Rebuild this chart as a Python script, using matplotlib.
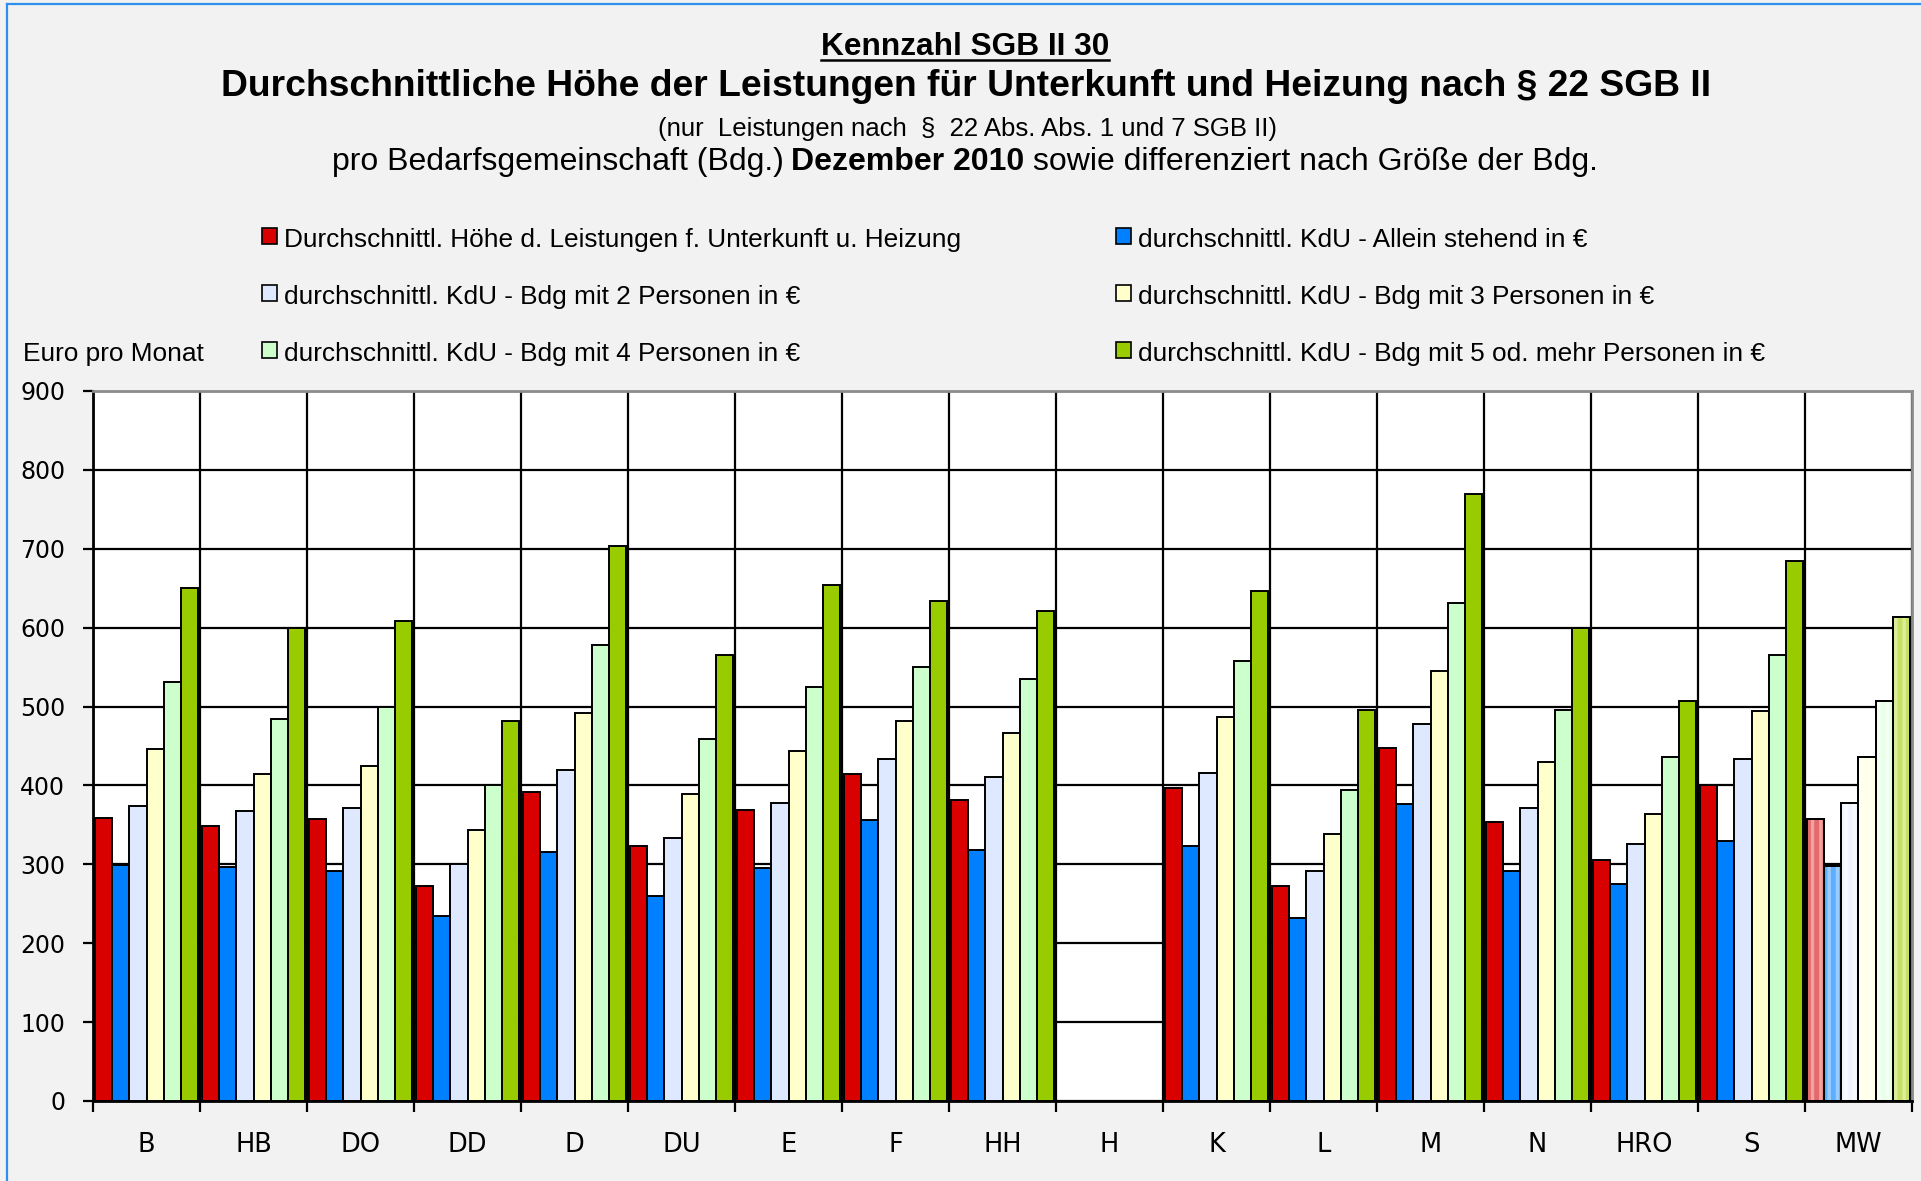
import numpy as np
import matplotlib
matplotlib.use("Agg")
import matplotlib.pyplot as plt
from matplotlib import font_manager
from matplotlib.patches import Rectangle
from matplotlib.lines import Line2D

# --- data (Euro pro Monat, Dezember 2010) ---
cities = ["B", "HB", "DO", "DD", "D", "DU", "E", "F", "HH", "H",
          "K", "L", "M", "N", "HRO", "S", "MW"]
kdu_total = [359, 349, 357, 273, 392, 323, 369, 414, 381, np.nan,
             397, 273, 448, 354, 306, 401, 358]
kdu_single = [299, 296, 291, 235, 316, 260, 295, 356, 318, np.nan,
              323, 232, 376, 292, 275, 329, 298]
kdu_two = [374, 367, 372, 301, 419, 334, 378, 434, 411, np.nan,
           416, 292, 478, 372, 326, 434, 378]
kdu_three = [446, 415, 425, 344, 492, 389, 444, 482, 467, np.nan,
             487, 338, 545, 430, 364, 494, 436]
kdu_four = [531, 484, 499, 401, 578, 459, 525, 550, 535, np.nan,
            558, 394, 631, 496, 436, 565, 507]
kdu_five = [650, 599, 608, 482, 703, 565, 654, 634, 621, np.nan,
            646, 496, 770, 600, 507, 684, 613]

series_labels = [
    "Durchschnittl. Höhe d. Leistungen f. Unterkunft u. Heizung",
    "durchschnittl. KdU - Allein stehend in €",
    "durchschnittl. KdU - Bdg mit 2 Personen in €",
    "durchschnittl. KdU - Bdg mit 3 Personen in €",
    "durchschnittl. KdU - Bdg mit 4 Personen in €",
    "durchschnittl. KdU - Bdg mit 5 od. mehr Personen in €",
]
series = [kdu_total, kdu_single, kdu_two, kdu_three, kdu_four, kdu_five]
colors = ["#D90000", "#0080FF", "#DEE8FF", "#FFFFCC", "#CCFFCC", "#99CC00"]
# lighter, striped look for the average (MW)
mw_face = ["#E26A6A", "#5EAEFF", "#F0F4FF", "#FFFFE8", "#E8FFE8", "#C6E066"]
mw_stripe = ["#F2A0A0", "#9ACCFF", "#F8FAFF", "#FFFFF4", "#F4FFF4", "#DDEE99"]

plt.rcParams["hatch.linewidth"] = 2.5

W, H = 1921, 1181
fig = plt.figure(figsize=(W / 100, H / 100), dpi=100, facecolor="#F2F2F2")
renderer = fig.canvas.get_renderer()

names = {f.name for f in font_manager.fontManager.ttflist}
narrow = "Liberation Sans Narrow" if "Liberation Sans Narrow" in names else "Liberation Sans"


def px(x, y):
    return x / W, 1 - y / H


def fitted(x, y, s, width, ha="center", **kw):
    t = fig.text(*px(x, y), s, fontsize=20, ha=ha, va="baseline", family=narrow, **kw)
    w = t.get_window_extent(renderer).width
    t.set_fontsize(20 * width / w)
    return t


# blue frame lines of the original sheet
fig.add_artist(Line2D([7 / W, 7 / W], [0, 1 - 4 / H], color="#2F8FEF", lw=1.6))
fig.add_artist(Line2D([7 / W, 1], [1 - 4 / H, 1 - 4 / H], color="#2F8FEF", lw=1.6))

# --- titles ---
t1 = fitted(965, 55, "Kennzahl SGB II 30", 288, weight="bold")
bb = t1.get_window_extent(renderer)
fig.add_artist(Line2D([bb.x0 / W, bb.x1 / W], [1 - 60 / H] * 2, color="black", lw=1.8))
fitted(966, 96, "Durchschnittliche Höhe der Leistungen für Unterkunft und Heizung nach § 22 SGB II",
       1491, weight="bold")
fitted(968, 136, "(nur  Leistungen nach  §  22 Abs. Abs. 1 und 7 SGB II)", 620)

pieces = [("pro Bedarfsgemeinschaft (Bdg.)", "normal"), ("Dezember 2010", "bold"),
          ("sowie differenziert nach Größe der Bdg.", "normal")]
fs = 20
texts = [fig.text(0, 0, s, fontsize=fs, family=narrow, weight=wt, va="baseline")
         for s, wt in pieces]
widths = [t.get_window_extent(renderer).width for t in texts]
gap = 0.28 * fs * 100 / 72
scale = 1264 / (sum(widths) + 2 * gap)
fs *= scale
xpos = 964 - 1264 / 2
for t, w in zip(texts, widths):
    t.set_fontsize(fs)
    t.set_position(px(xpos, 170))
    xpos += (w + gap) * scale

# --- legend (manual, 3 rows x 2 columns) ---
leg_rows = [247, 304, 361]
leg_cols = [(262, 284), (1116, 1138)]
probe = fig.text(0, 0, series_labels[0], fontsize=20, family=narrow)
leg_fs = 20 * 676 / probe.get_window_extent(renderer).width
probe.remove()
for k, (lab, col) in enumerate(zip(series_labels, colors)):
    r, c = k // 2, k % 2
    mx, tx = leg_cols[c]
    y = leg_rows[r]
    fig.add_artist(Rectangle(px(mx, y - 3), 15 / W, 16 / H, transform=fig.transFigure,
                             facecolor=col, edgecolor="black", lw=1.2))
    fig.text(*px(tx, y), lab, fontsize=leg_fs, family=narrow, va="baseline")
fig.text(*px(23, 361), "Euro pro Monat", fontsize=leg_fs, family=narrow, va="baseline")

# --- chart ---
ax = fig.add_axes([93 / W, (H - 1101) / H, (1912 - 93) / W, (1101 - 391) / H])
ax.set_facecolor("white")
x = np.arange(len(cities))
bw = 0.16
for j, (vals, col) in enumerate(zip(series, colors)):
    pos = x + (j - 2.5) * bw
    bars = ax.bar(pos, vals, width=bw, color=col, edgecolor="black", lw=1.4, zorder=3)
    bars[-1].set_facecolor(mw_face[j])
    ax.bar(pos[-1], vals[-1], width=bw, facecolor="none", edgecolor=mw_stripe[j],
           hatch="||", lw=0, zorder=3.5)
    ax.bar(pos[-1], vals[-1], width=bw, fill=False, edgecolor="black", lw=1.4, zorder=4)

ax.set_xlim(-0.5, len(cities) - 0.5)
ax.set_ylim(0, 900)
ax.set_yticks(np.arange(0, 901, 100))
ax.set_xticks(x)
ax.set_xticklabels(cities, fontsize=18.5)
ax.set_xticks(np.arange(-0.5, len(cities), 1), minor=True)
ax.tick_params(axis="x", which="major", length=0, pad=22)
ax.tick_params(axis="x", which="minor", length=8, width=1.6, direction="out")
ax.tick_params(axis="y", length=7, width=1.6, direction="out", pad=13, labelsize=17)
ax.set_axisbelow(True)
ax.yaxis.grid(True, color="black", lw=1.6)
ax.xaxis.grid(True, which="minor", color="black", lw=1.6)
for s in ["left", "bottom"]:
    ax.spines[s].set_linewidth(2)
    ax.spines[s].set_color("black")
for s in ["top", "right"]:
    ax.spines[s].set_linewidth(2)
    ax.spines[s].set_color("#8C8C8C")

fig.savefig("out.png", dpi=100, facecolor=fig.get_facecolor())
